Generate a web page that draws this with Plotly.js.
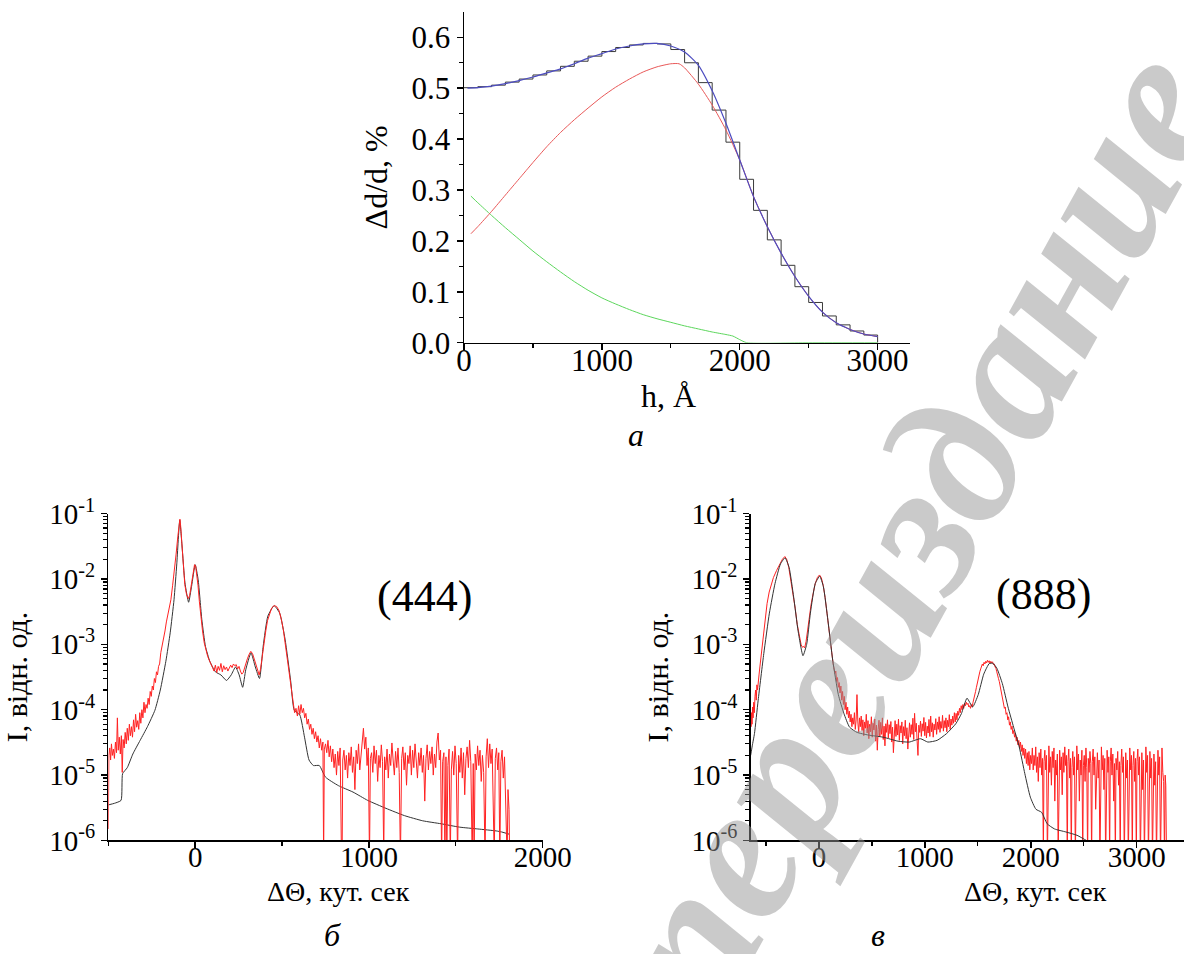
<!DOCTYPE html>
<html><head><meta charset="utf-8">
<script src="https://cdn.plot.ly/plotly-3.0.1.min.js"></script>
<style>html,body{margin:0;padding:0;background:#fff}#chart{width:1184px;height:954px}</style>
</head><body><div id="chart"></div>
<script>
// ---------- panel (a): strain profile ----------
const stepEdges = [0,100,200,300,400,500,600,700,800,900,1000,1100,1200,1300,1400,1500,1600,1700,1800,1900,2000,2100,2200,2300,2400,2500,2600,2700,2800,2900,3000];
const stepLevels = [0.501,0.503,0.506,0.512,0.518,0.526,0.534,0.543,0.553,0.563,0.572,0.580,0.585,0.588,0.587,0.576,0.550,0.511,0.457,0.394,0.321,0.260,0.202,0.152,0.110,0.079,0.0525,0.035,0.023,0.015,0];
const blueH = [25,100,200,300,400,500,600,700,800,900,1000,1100,1200,1300,1400,1500,1600,1700,1800,1900,2000,2100,2200,2300,2400,2500,2600,2700,2800,2900,3000];
const blueV = [0.500,0.501,0.504,0.509,0.515,0.522,0.530,0.538,0.548,0.559,0.568,0.577,0.583,0.587,0.588,0.583,0.571,0.545,0.495,0.431,0.359,0.287,0.228,0.176,0.130,0.091,0.060,0.039,0.026,0.017,0.012];
const redH = [50,100,200,300,400,500,600,700,800,900,1000,1100,1200,1300,1400,1500,1560,1600,1700,1800,1900,2000,2100,2200,2300,2400,2500,2600,2700,2800,2900,3000];
const redV = [0.214,0.228,0.258,0.290,0.322,0.354,0.385,0.413,0.438,0.461,0.483,0.502,0.518,0.532,0.542,0.548,0.548,0.540,0.508,0.467,0.418,0.359,0.287,0.228,0.176,0.130,0.091,0.060,0.039,0.026,0.017,0.012];
const greenH = [50,100,200,300,400,500,600,700,800,900,1000,1100,1200,1300,1400,1500,1600,1700,1800,1900,1950,2000,2050,2500,3000];
const greenV = [0.288,0.275,0.250,0.226,0.203,0.180,0.159,0.139,0.120,0.103,0.088,0.076,0.065,0.055,0.047,0.040,0.033,0.027,0.021,0.016,0.013,0.006,0,0,0];

// ---------- panel (б): (444) rocking curve  [angle, intensity] ----------
const calc444 = [[-500,3.5e-6],[-465,3.7e-6],[-427,4.1e-6],[-418,1.05e-5],[-391,1.3e-5],[-359,2.1e-5],[-317,3.4e-5],[-275,5.5e-5],[-232,9.8e-5],[-201,2.0e-4],[-169,5.5e-4],[-144,1.5e-3],[-122,4.8e-3],[-106,1.7e-2],[-89,7.9e-2],[-76,3.2e-2],[-59,8.7e-3],[-38,4.4e-3],[-21,7.7e-3],[0,1.65e-2],[17,9.7e-3],[38,2.4e-3],[59,9.3e-4],[84,5.5e-4],[116,3.8e-4],[148,3.4e-4],[180,2.8e-4],[207,3.4e-4],[232,4.5e-4],[253,3.4e-4],[273,2.2e-4],[291,4.1e-4],[321,7.4e-4],[346,4.5e-4],[370,3.0e-4],[391,9.3e-4],[418,2.7e-3],[454,3.9e-3],[486,3.0e-3],[517,1.2e-3],[549,2.8e-4],[570,9.8e-5],[602,8.3e-5],[629,3.8e-5],[655,1.7e-5],[680,1.4e-5],[714,1.4e-5],[750,9.3e-6],[824,6.9e-6],[908,5.5e-6],[993,4.1e-6],[1098,3.1e-6],[1204,2.4e-6],[1309,2.0e-6],[1415,1.8e-6],[1521,1.6e-6],[1626,1.5e-6],[1732,1.4e-6],[1763,1.35e-6],[1806,1.25e-6]];
const exp444 = [[-500,1.5e-6],[-497,2.0e-5],[-492,2.6e-5],[-487,1.7e-5],[-482,3.0e-5],[-477,2.0e-5],[-471,2.5e-5],[-465,1.8e-5],[-459,3.2e-5],[-453,2.2e-5],[-448,7.5e-5],[-443,2.4e-5],[-437,3.8e-5],[-431,2.1e-5],[-425,4.0e-5],[-420,1.1e-5],[-415,3.5e-5],[-409,2.6e-5],[-403,4.5e-5],[-397,3.0e-5],[-391,5.2e-5],[-385,3.4e-5],[-379,6.0e-5],[-373,4.0e-5],[-367,5.5e-5],[-361,3.8e-5],[-355,7.0e-5],[-349,4.6e-5],[-343,8.5e-5],[-337,5.4e-5],[-331,6.8e-5],[-325,5.0e-5],[-319,9.0e-5],[-313,6.2e-5],[-307,1.0e-4],[-301,7.5e-5],[-295,1.3e-4],[-289,9.0e-5],[-283,1.2e-4],[-277,1.05e-4],[-271,1.5e-4],[-265,1.2e-4],[-259,1.9e-4],[-253,1.6e-4],[-247,2.3e-4],[-241,2.0e-4],[-235,3.0e-4],[-229,2.6e-4],[-223,3.8e-4],[-217,3.4e-4],[-211,4.6e-4],[-205,5.0e-4],[-198,7.5e-4],[-190,9.5e-4],[-182,1.3e-3],[-174,1.6e-3],[-166,2.2e-3],[-158,2.8e-3],[-150,3.6e-3],[-140,4.8e-3],[-130,8.0e-3],[-120,1.3e-2],[-110,2.4e-2],[-100,4.5e-2],[-92,7.5e-2],[-88,8.2e-2],[-84,6.5e-2],[-78,3.6e-2],[-70,1.5e-2],[-60,8.2e-3],[-50,5.8e-3],[-40,5.0e-3],[-32,5.6e-3],[-22,8.5e-3],[-12,1.3e-2],[-4,1.65e-2],[2,1.6e-2],[8,1.25e-2],[16,8.0e-3],[24,4.5e-3],[32,2.6e-3],[42,1.6e-3],[52,1.05e-3],[62,8.0e-4],[72,6.5e-4],[82,5.6e-4],[92,5.0e-4],[100,4.4e-4],[108,3.9e-4],[116,4.8e-4],[124,3.7e-4],[132,4.6e-4],[140,4.0e-4],[148,5.1e-4],[156,3.8e-4],[164,4.7e-4],[172,4.1e-4],[180,4.5e-4],[188,3.9e-4],[196,4.3e-4],[204,4.8e-4],[212,4.4e-4],[220,5.0e-4],[228,4.7e-4],[236,4.9e-4],[244,4.2e-4],[252,4.6e-4],[260,3.9e-4],[268,3.5e-4],[276,3.7e-4],[284,4.4e-4],[292,5.2e-4],[300,6.0e-4],[310,7.0e-4],[320,7.8e-4],[330,7.2e-4],[340,5.8e-4],[350,4.6e-4],[360,3.8e-4],[368,3.4e-4],[376,4.2e-4],[386,7.0e-4],[396,1.1e-3],[406,1.6e-3],[416,2.3e-3],[428,3.0e-3],[440,3.6e-3],[454,3.9e-3],[468,3.8e-3],[482,3.3e-3],[496,2.4e-3],[508,1.6e-3],[518,1.0e-3],[528,6.5e-4],[538,4.0e-4],[548,2.6e-4],[556,1.7e-4],[564,1.2e-4],[572,9.0e-5],[580,1.05e-4],[588,8.0e-5],[595,1.15e-4],[602,8.5e-5],[609,1.2e-4],[616,9.0e-5],[623,1.05e-4],[630,7.5e-5],[637,8.8e-5],[644,6.0e-5],[651,7.2e-5],[658,5.0e-5],[665,6.0e-5],[672,4.2e-5],[679,5.2e-5],[686,3.6e-5],[693,4.6e-5],[700,3.2e-5],[707,4.0e-5],[714,2.6e-5],[721,3.6e-5],[728,2.4e-5],[735,3.2e-5],[739,5e-7],[743,2.5e-5],[750,3.0e-5],[757,2.2e-5],[764,3.4e-5],[771,1.9e-5],[778,2.8e-5],[785,1.6e-5],[792,2.5e-5],[799,1.3e-5],[806,2.1e-5],[813,1.0e-5],[820,2.3e-5],[827,1.4e-5],[834,2.6e-5],[841,8e-7],[845,4e-7],[849,1.7e-5],[856,2.4e-5],[863,1.2e-5],[870,2.0e-5],[877,9e-6],[884,2.2e-5],[891,1.4e-5],[898,2.7e-5],[905,1.1e-5],[912,1.9e-5],[919,6e-6],[926,2.4e-5],[933,1.5e-5],[940,3.0e-5],[947,1.2e-5],[954,2.1e-5],[961,3.5e-5],[968,5.2e-5],[975,2.5e-5],[982,3.8e-5],[989,1.4e-5],[996,2.6e-5],[1003,5e-7],[1008,1.8e-5],[1015,2.2e-5],[1022,1.1e-5],[1029,2.8e-5],[1036,1.5e-5],[1043,2.4e-5],[1050,8e-6],[1057,2.0e-5],[1064,1.3e-5],[1071,2.9e-5],[1078,1.6e-5],[1085,6e-7],[1090,1.9e-5],[1097,1.2e-5],[1104,2.5e-5],[1111,9e-6],[1118,2.1e-5],[1125,1.4e-5],[1132,3.1e-5],[1139,1.7e-5],[1146,1.0e-5],[1153,2.3e-5],[1160,1.3e-5],[1167,2.6e-5],[1174,1.1e-5],[1181,5e-7],[1188,1.8e-5],[1195,2.7e-5],[1202,1.2e-5],[1209,2.2e-5],[1216,7e-6],[1223,2.0e-5],[1230,1.5e-5],[1237,2.8e-5],[1244,1.0e-5],[1251,2.4e-5],[1258,1.3e-5],[1265,3.0e-5],[1272,1.6e-5],[1279,9e-6],[1286,2.2e-5],[1293,1.4e-5],[1300,2.6e-5],[1307,1.1e-5],[1314,2.0e-5],[1321,4e-6],[1328,1.8e-5],[1335,2.9e-5],[1342,1.2e-5],[1349,2.3e-5],[1356,1.5e-5],[1363,2.7e-5],[1370,1.0e-5],[1377,2.1e-5],[1384,1.3e-5],[1391,3.2e-5],[1398,4.4e-5],[1405,1.7e-5],[1412,2.4e-5],[1418,5e-7],[1424,1.6e-5],[1431,2.2e-5],[1437,5e-7],[1443,1.9e-5],[1448,5e-7],[1454,1.4e-5],[1461,2.5e-5],[1468,5e-7],[1474,1.2e-5],[1481,2.3e-5],[1488,1.0e-5],[1495,2.8e-5],[1502,1.5e-5],[1510,5e-7],[1516,2.0e-5],[1523,1.1e-5],[1530,2.6e-5],[1537,9e-6],[1544,2.2e-5],[1551,5e-6],[1558,1.8e-5],[1565,2.7e-5],[1572,1.3e-5],[1579,3.4e-5],[1586,1.6e-5],[1594,5e-7],[1600,1.5e-5],[1605,5e-7],[1611,2.1e-5],[1618,1.2e-5],[1625,2.8e-5],[1632,1.4e-5],[1639,2.4e-5],[1646,8e-6],[1653,2.0e-5],[1660,1.1e-5],[1668,5e-7],[1674,1.9e-5],[1681,3.6e-5],[1688,1.3e-5],[1695,3.0e-5],[1702,1.5e-5],[1709,2.5e-5],[1715,7e-6],[1721,5e-7],[1727,1.8e-5],[1734,2.6e-5],[1741,1.2e-5],[1747,2.2e-5],[1753,5e-7],[1759,1.6e-5],[1766,2.4e-5],[1773,9e-6],[1780,1.9e-5],[1787,4e-6],[1795,5e-7],[1800,6e-6],[1806,3e-6],[1810,5e-7]];

// ---------- panel (в): (888) rocking curve  [angle, intensity] ----------
const calc888 = [[-645,2.0e-5],[-630,2.8e-5],[-609,4.3e-5],[-574,1.4e-4],[-521,7.2e-4],[-468,3.0e-3],[-415,8.5e-3],[-363,1.7e-2],[-320,2.1e-2],[-282,1.5e-2],[-239,5.3e-3],[-197,1.6e-3],[-151,6.7e-4],[-116,1.0e-3],[-81,3.0e-3],[-35,8.5e-3],[7,1.1e-2],[42,7.6e-3],[85,2.3e-3],[130,5.7e-4],[183,1.7e-4],[236,8.7e-5],[289,5.4e-5],[359,4.5e-5],[465,4.1e-5],[606,3.8e-5],[746,3.3e-5],[852,3.2e-5],[958,3.6e-5],[1028,3.2e-5],[1116,3.4e-5],[1204,4.3e-5],[1292,6.1e-5],[1345,8.7e-5],[1398,1.5e-4],[1451,1.1e-4],[1504,1.7e-4],[1556,3.5e-4],[1609,5.1e-4],[1644,5.1e-4],[1680,4.3e-4],[1732,2.5e-4],[1785,1.1e-4],[1838,5.4e-5],[1891,2.7e-5],[1944,1.05e-5],[1996,4.6e-6],[2049,3.0e-6],[2102,2.7e-6],[2155,1.8e-6],[2225,1.5e-6],[2331,1.35e-6],[2437,1.2e-6],[2525,1.0e-6],[2577,8.9e-7]];
const exp888 = [[-645,7e-5],[-641,5.5e-5],[-637,9e-5],[-632,6e-5],[-627,1.1e-4],[-622,7.5e-5],[-616,1.3e-4],[-610,9e-5],[-604,1.6e-4],[-598,2.0e-4],[-592,1.4e-4],[-586,2.4e-4],[-580,2.0e-4],[-573,3.0e-4],[-566,3.4e-4],[-558,4.5e-4],[-550,5.8e-4],[-540,8.5e-4],[-530,1.2e-3],[-518,1.9e-3],[-505,2.8e-3],[-490,4.2e-3],[-470,6.3e-3],[-450,8.5e-3],[-430,1.05e-2],[-400,1.35e-2],[-370,1.7e-2],[-345,2.0e-2],[-322,2.2e-2],[-305,2.0e-2],[-285,1.5e-2],[-265,9.5e-3],[-245,6.0e-3],[-225,3.6e-3],[-205,2.0e-3],[-185,1.3e-3],[-168,9.8e-4],[-155,9.0e-4],[-145,9.3e-4],[-135,8.8e-4],[-122,1.1e-3],[-108,1.6e-3],[-92,2.6e-3],[-75,4.0e-3],[-55,6.0e-3],[-35,8.5e-3],[-15,1.05e-2],[5,1.15e-2],[22,1.05e-2],[40,8.0e-3],[58,5.2e-3],[75,3.0e-3],[92,1.8e-3],[108,1.1e-3],[122,7.0e-4],[134,5.0e-4],[143,4.2e-4],[151,3.6e-4],[159,3.9e-4],[167,2.7e-4],[175,3.1e-4],[183,2.2e-4],[191,2.6e-4],[199,1.8e-4],[207,2.3e-4],[215,1.4e-4],[223,1.9e-4],[231,1.2e-4],[239,1.6e-4],[247,1.0e-4],[255,1.3e-4],[263,8.5e-5],[271,1.1e-4],[279,7.5e-5],[287,9.5e-5],[295,6.5e-5],[303,8.5e-5],[311,5.5e-5],[319,7.5e-5],[327,6.0e-5],[335,9.0e-5],[343,5.0e-5],[351,7.0e-5],[359,1.7e-4],[367,6.5e-5],[375,4.5e-5],[383,7.5e-5],[391,5.5e-5],[399,8.0e-5],[407,4.8e-5],[415,7.0e-5],[423,4.0e-5],[431,6.5e-5],[439,5.2e-5],[447,8.5e-5],[455,4.4e-5],[463,6.8e-5],[471,3.6e-5],[479,6.0e-5],[487,4.6e-5],[495,7.8e-5],[503,3.8e-5],[511,6.2e-5],[519,4.9e-5],[527,7.2e-5],[535,3.3e-5],[543,5.8e-5],[551,2.4e-5],[559,5.0e-5],[567,6.9e-5],[575,3.9e-5],[583,6.4e-5],[591,4.2e-5],[599,7.5e-5],[607,3.5e-5],[615,5.6e-5],[623,2.8e-5],[631,6.1e-5],[639,4.5e-5],[647,7.0e-5],[655,3.7e-5],[663,5.9e-5],[671,4.3e-5],[679,6.6e-5],[687,3.2e-5],[695,5.4e-5],[703,2.2e-5],[711,5.1e-5],[719,6.8e-5],[727,3.9e-5],[735,6.0e-5],[743,4.1e-5],[751,7.2e-5],[759,3.4e-5],[767,5.7e-5],[775,4.4e-5],[783,6.5e-5],[791,3.0e-5],[799,5.5e-5],[807,4.0e-5],[815,6.9e-5],[823,3.6e-5],[831,5.3e-5],[839,2.5e-5],[847,4.8e-5],[855,6.3e-5],[863,3.8e-5],[871,5.9e-5],[879,4.2e-5],[887,7.4e-5],[895,3.5e-5],[903,8.8e-5],[911,4.6e-5],[919,6.2e-5],[927,3.3e-5],[935,2.0e-5],[943,5.8e-5],[951,4.5e-5],[959,6.7e-5],[967,3.9e-5],[975,6.1e-5],[983,4.7e-5],[991,7.6e-5],[999,4.0e-5],[1007,6.4e-5],[1015,3.7e-5],[1023,5.6e-5],[1031,4.4e-5],[1039,7.1e-5],[1047,3.9e-5],[1055,8.0e-5],[1063,4.6e-5],[1071,6.3e-5],[1079,3.8e-5],[1087,6.0e-5],[1095,4.9e-5],[1103,7.3e-5],[1111,4.2e-5],[1119,6.5e-5],[1127,5.0e-5],[1135,7.8e-5],[1143,4.5e-5],[1151,6.6e-5],[1159,5.2e-5],[1167,8.2e-5],[1175,4.7e-5],[1183,6.8e-5],[1191,5.3e-5],[1199,7.5e-5],[1207,4.6e-5],[1215,6.9e-5],[1223,5.5e-5],[1231,8.4e-5],[1239,5.0e-5],[1247,7.2e-5],[1255,5.8e-5],[1263,8.0e-5],[1271,6.2e-5],[1279,9.0e-5],[1287,6.5e-5],[1295,8.8e-5],[1303,7.0e-5],[1311,9.5e-5],[1319,8.2e-5],[1327,1.05e-4],[1335,9.0e-5],[1343,1.15e-4],[1351,1.0e-4],[1359,1.2e-4],[1367,1.05e-4],[1375,1.25e-4],[1383,1.15e-4],[1391,1.3e-4],[1399,1.2e-4],[1407,1.25e-4],[1415,1.1e-4],[1423,1.15e-4],[1431,1.05e-4],[1439,1.2e-4],[1447,1.1e-4],[1455,1.3e-4],[1463,1.45e-4],[1471,1.6e-4],[1479,1.9e-4],[1487,2.2e-4],[1495,2.6e-4],[1503,3.0e-4],[1511,3.3e-4],[1519,3.8e-4],[1527,4.2e-4],[1535,4.6e-4],[1543,5.0e-4],[1551,4.7e-4],[1559,5.3e-4],[1567,5.0e-4],[1575,5.5e-4],[1583,5.2e-4],[1591,5.7e-4],[1599,5.3e-4],[1607,5.6e-4],[1615,5.1e-4],[1623,5.5e-4],[1631,5.2e-4],[1639,5.4e-4],[1647,4.9e-4],[1655,5.0e-4],[1663,4.5e-4],[1671,4.3e-4],[1679,3.8e-4],[1687,3.5e-4],[1695,3.0e-4],[1703,2.7e-4],[1711,2.3e-4],[1719,2.0e-4],[1727,1.75e-4],[1735,1.45e-4],[1743,1.3e-4],[1751,1.05e-4],[1759,1.1e-4],[1767,8.5e-5],[1775,9.0e-5],[1783,7.0e-5],[1791,7.8e-5],[1799,5.8e-5],[1807,6.5e-5],[1815,5.0e-5],[1823,5.6e-5],[1831,4.3e-5],[1839,4.8e-5],[1847,3.8e-5],[1855,4.4e-5],[1863,3.3e-5],[1871,3.8e-5],[1879,2.9e-5],[1887,3.4e-5],[1895,2.6e-5],[1903,3.2e-5],[1911,2.3e-5],[1919,2.9e-5],[1927,2.0e-5],[1935,2.6e-5],[1943,1.8e-5],[1951,2.5e-5],[1959,1.5e-5],[1967,2.2e-5],[1975,1.4e-5],[1983,2.3e-5],[1991,1.2e-5],[1999,2.0e-5],[2007,1.5e-5],[2015,2.6e-5],[2023,1.2e-5],[2031,2.0e-5],[2039,1.4e-5],[2047,2.7e-5],[2055,1.1e-5],[2063,1.9e-5],[2071,8e-6],[2079,2.2e-5],[2087,1.3e-5],[2095,2.5e-5],[2103,1.0e-5],[2111,1.8e-5],[2119,6e-7],[2125,1.6e-5],[2133,2.4e-5],[2141,1.2e-5],[2149,2.0e-5],[2157,5e-7],[2163,1.5e-5],[2171,2.8e-5],[2179,1.1e-5],[2187,1.9e-5],[2195,7e-6],[2203,2.3e-5],[2211,1.3e-5],[2219,2.6e-5],[2227,4e-6],[2235,1.7e-5],[2243,1.0e-5],[2251,2.1e-5],[2259,6e-7],[2265,1.4e-5],[2273,2.4e-5],[2281,1.2e-5],[2289,1.9e-5],[2297,5e-6],[2305,2.2e-5],[2313,1.1e-5],[2321,2.7e-5],[2329,1.4e-5],[2337,2.0e-5],[2345,5e-7],[2351,1.6e-5],[2359,2.5e-5],[2367,9e-6],[2375,1.8e-5],[2383,5e-7],[2389,1.3e-5],[2397,2.3e-5],[2405,1.0e-5],[2413,1.9e-5],[2421,6e-7],[2427,1.5e-5],[2435,2.8e-5],[2443,1.2e-5],[2451,2.1e-5],[2459,4e-6],[2467,1.7e-5],[2475,1.0e-5],[2483,2.4e-5],[2491,5e-7],[2497,1.4e-5],[2505,2.0e-5],[2513,8e-6],[2521,2.6e-5],[2529,1.3e-5],[2537,5e-7],[2543,1.8e-5],[2551,1.1e-5],[2559,2.3e-5],[2567,1.5e-5],[2575,5e-7],[2581,1.6e-5],[2589,2.5e-5],[2597,1.0e-5],[2605,1.9e-5],[2613,3e-6],[2621,1.4e-5],[2629,2.2e-5],[2637,9e-6],[2645,1.7e-5],[2653,5e-7],[2659,1.5e-5],[2667,2.7e-5],[2675,1.2e-5],[2683,2.0e-5],[2691,6e-6],[2699,1.8e-5],[2707,5e-7],[2713,1.3e-5],[2721,2.4e-5],[2729,1.1e-5],[2737,1.9e-5],[2745,5e-7],[2751,1.6e-5],[2759,2.6e-5],[2767,1.0e-5],[2775,2.1e-5],[2783,4e-6],[2791,1.5e-5],[2799,5e-7],[2805,1.8e-5],[2813,1.2e-5],[2821,2.3e-5],[2829,7e-6],[2837,1.6e-5],[2845,5e-7],[2851,1.4e-5],[2859,2.5e-5],[2867,1.1e-5],[2875,1.9e-5],[2883,5e-7],[2889,1.3e-5],[2897,2.2e-5],[2905,9e-6],[2913,1.7e-5],[2921,5e-7],[2927,1.5e-5],[2935,2.6e-5],[2943,1.2e-5],[2951,2.0e-5],[2959,5e-7],[2965,1.4e-5],[2973,2.3e-5],[2981,8e-6],[2989,1.8e-5],[2997,5e-7],[3003,1.6e-5],[3011,2.5e-5],[3019,1.0e-5],[3027,1.9e-5],[3035,5e-7],[3041,1.3e-5],[3049,2.2e-5],[3057,6e-6],[3065,1.7e-5],[3073,5e-7],[3079,1.5e-5],[3087,2.7e-5],[3095,1.1e-5],[3103,2.0e-5],[3111,5e-7],[3117,1.4e-5],[3125,2.3e-5],[3133,9e-6],[3141,1.8e-5],[3149,5e-7],[3155,1.2e-5],[3163,2.1e-5],[3171,7e-6],[3179,1.6e-5],[3187,5e-7],[3193,1.3e-5],[3201,2.4e-5],[3209,1.0e-5],[3217,1.9e-5],[3225,5e-7],[3231,1.5e-5],[3239,2.6e-5],[3247,1.1e-5],[3255,8e-6],[3263,5e-7],[3269,1.0e-5],[3275,7e-6],[3282,5e-7]];

const logTickVals = [1e-6,1e-5,1e-4,1e-3,1e-2,1e-1];
const logTickText = ['10<sup>-6</sup>','10<sup>-5</sup>','10<sup>-4</sup>','10<sup>-3</sup>','10<sup>-2</sup>','10<sup>-1</sup>'];
const panelLabels = ['а','б','в'];
const reflexLabels = ['(444)','(888)'];
const axisTitles = {h:'h, Å', strain:'Δd/d, %', angle:'ΔΘ, кут. сек', intensity:'I, відн. од.'};
const watermark = 'переиздание';

const FONT = '"Liberation Serif", "Times New Roman", Times, serif';
const xs = a => a.map(p => p[0]);
const ys = a => a.map(p => p[1]);

const traces = [
  {x: stepEdges, y: stepLevels, xaxis:'x', yaxis:'y', mode:'lines', line:{shape:'hv', color:'#3a3a3a', width:1}},
  {x: greenH, y: greenV, xaxis:'x', yaxis:'y', mode:'lines', line:{shape:'spline', smoothing:0.6, color:'#5cd65c', width:1}},
  {x: redH, y: redV, xaxis:'x', yaxis:'y', mode:'lines', line:{shape:'spline', smoothing:0.6, color:'#e85858', width:1}},
  {x: blueH, y: blueV, xaxis:'x', yaxis:'y', mode:'lines', line:{shape:'spline', smoothing:0.6, color:'#4c4cc0', width:1.2}},
  {x: xs(calc444), y: ys(calc444), xaxis:'x2', yaxis:'y2', mode:'lines', line:{shape:'spline', smoothing:0.5, color:'#333', width:1}},
  {x: xs(exp444), y: ys(exp444), xaxis:'x2', yaxis:'y2', mode:'lines', line:{color:'#ff2222', width:1}},
  {x: xs(exp888), y: ys(exp888), xaxis:'x3', yaxis:'y3', mode:'lines', line:{color:'#ff2222', width:1}},
  {x: xs(calc888), y: ys(calc888), xaxis:'x3', yaxis:'y3', mode:'lines', line:{shape:'spline', smoothing:0.5, color:'#333', width:1}}
];

const axBase = {showline:true, linecolor:'#000', linewidth:1.5, ticks:'outside', tickcolor:'#000', tickwidth:1.5, ticklen:6, showgrid:false, zeroline:false, mirror:false, tickfont:{family:FONT, size:29, color:'#000'}};
const minorLin = d => ({ticks:'outside', ticklen:4, tickwidth:1.2, tickcolor:'#000', dtick:d, showgrid:false});
const minorLog = {ticks:'outside', ticklen:4, tickwidth:1.2, tickcolor:'#000', dtick:'D1', showgrid:false};
const ann = (text, x, y, size, extra) => Object.assign({text:text, xref:'paper', yref:'paper', x:x/1184, y:1-y/954, xanchor:'center', yanchor:'middle', showarrow:false, font:{family:FONT, size:size, color:'#000'}}, extra||{});

const layout = {
  width:1184, height:954, margin:{l:0,r:0,t:0,b:0},
  paper_bgcolor:'#fff', plot_bgcolor:'rgba(0,0,0,0)', showlegend:false,
  font:{family:FONT, color:'#000'},
  xaxis: Object.assign({}, axBase, {domain:[0.3919,0.7686], range:[0,3235], anchor:'y', tick0:0, dtick:1000, minor:minorLin(500), ticklabelstandoff:-16, tickfont:{family:FONT,size:31,color:'#000'}}),
  yaxis: Object.assign({}, axBase, {domain:[0.6408,0.9874], range:[0,0.6497], anchor:'x', tick0:0, dtick:0.1, tickformat:'.1f', minor:minorLin(0.05), tickfont:{family:FONT,size:31,color:'#000'},
    title:{text:axisTitles.strain, font:{family:FONT,size:32,color:'#000'}, standoff:14}}),
  xaxis2: Object.assign({}, axBase, {domain:[0.0915,0.4584], range:[-500,2000], anchor:'y2', tick0:0, dtick:1000, minor:minorLin(500), ticklabelstandoff:-16}),
  yaxis2: Object.assign({}, axBase, {type:'log', domain:[0.1190,0.4617], range:[-6,-1], anchor:'x2', tickmode:'array', tickvals:logTickVals, ticktext:logTickText, minor:minorLog,
    title:{text:axisTitles.intensity, font:{family:FONT,size:30,color:'#000'}, standoff:16}}),
  xaxis3: Object.assign({}, axBase, {domain:[0.6340,1.0], range:[-645,3447], anchor:'y3', tick0:0, dtick:1000, minor:minorLin(500), ticklabelstandoff:-16}),
  yaxis3: Object.assign({}, axBase, {type:'log', domain:[0.1190,0.4617], range:[-6,-1], anchor:'x3', tickmode:'array', tickvals:logTickVals, ticktext:logTickText, minor:minorLog,
    title:{text:axisTitles.intensity, font:{family:FONT,size:30,color:'#000'}, standoff:14}}),
  annotations: [
    ann(axisTitles.h, 668, 396, 32),
    ann(axisTitles.angle, 338, 891, 28),
    ann(axisTitles.angle, 1035, 891, 28),
    ann(panelLabels[0], 636, 435, 32, {font:{family:FONT,size:32,style:'italic',color:'#000'}}),
    ann(panelLabels[1], 332, 935, 32, {font:{family:FONT,size:32,style:'italic',color:'#000'}}),
    ann(panelLabels[2], 878, 935, 32, {font:{family:FONT,size:32,style:'italic',color:'#000'}}),
    ann(reflexLabels[0], 424, 596, 44),
    ann(reflexLabels[1], 1043, 594, 44),
    ann('<b><i>'+watermark+'</i></b>', 915, 530, 195, {textangle:-61, font:{family:FONT,size:195,color:'rgba(150,150,150,0.5)'}})
  ]
};

Plotly.newPlot('chart', traces, layout, {displayModeBar:false, staticPlot:true});
</script></body></html>
